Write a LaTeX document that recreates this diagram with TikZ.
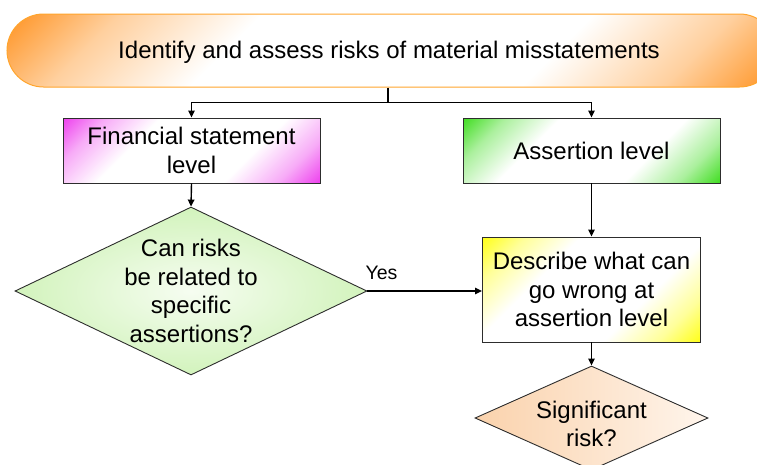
\documentclass[tikz,border=0pt]{standalone}
\usepackage{fontspec}
\setmainfont{Liberation Sans}
\usetikzlibrary{shapes.geometric,arrows.meta}

% colours of the boxes
\definecolor{toporange}{RGB}{255,150,40}
\definecolor{topedge}{RGB}{255,165,45}
\definecolor{finmag}{RGB}{238,70,238}
\definecolor{asrgreen}{RGB}{70,222,40}
\definecolor{descyellow}{RGB}{255,255,30}
\definecolor{qgreen}{RGB}{210,243,188}
\definecolor{qgreenlight}{RGB}{246,253,241}
\definecolor{qpeach}{RGB}{250,210,172}
\definecolor{qpeachlight}{RGB}{255,245,236}
\definecolor{edgegray}{RGB}{45,45,45}

% diagonal fade: coloured top-left and bottom-right corners, white band between
\newcommand\cornerfade[2]{%
  \pgfdeclareverticalshading{#1}{100bp}{color(0bp)=(#2); color(15bp)=(#2);
    color(24bp)=(#2!45!white); color(36bp)=(white); color(64bp)=(white);
    color(76bp)=(#2!45!white); color(85bp)=(#2); color(100bp)=(#2)}}
\cornerfade{fadeorange}{toporange}
\cornerfade{fademagenta}{finmag}
\cornerfade{fadegreen}{asrgreen}
\cornerfade{fadeyellow}{descyellow}

\tikzset{
  lbl/.style={font=\fontsize{24}{28.8}\selectfont, align=center, text=black},
  levelbox/.style={rectangle, draw=edgegray, line width=0.9pt, inner sep=0pt,
    shading angle=45, lbl},
  decision/.style={diamond, draw=edgegray, line width=0.9pt, inner sep=0pt},
  link/.style={draw=black, line width=1.4pt,
    -{Triangle[length=7pt,width=6.5pt]}},
  plain/.style={draw=black, line width=1.4pt},
}

\begin{document}
\begin{tikzpicture}[x=1pt,y=-1pt]
  \useasboundingbox (0,0) rectangle (757,464);
  \begin{scope}
    \clip (0,0) rectangle (757,464);

    % heading bar
    \node[rectangle, rounded corners=36.5pt, draw=topedge, line width=1pt,
          shading=fadeorange, shading angle=45,
          minimum width=769pt, minimum height=73pt, inner sep=0pt]
          (top) at (391.5,50.5) {};
    \node[lbl] (toptext) at (389,52.5) {Identify and assess risks of material misstatements};

    % the two levels
    \node[levelbox, shading=fademagenta, minimum width=257pt, minimum height=65pt]
          (fin) at (191.5,150.5) {Financial statement\\level};
    \node[levelbox, shading=fadegreen, minimum width=257pt, minimum height=65pt]
          (asr) at (591.5,150.5) {Assertion level};

    % first decision
    \node[decision, minimum width=352pt, minimum height=168pt,
          inner color=qgreenlight, outer color=qgreen]
          (q1) at (191,291) {};
    \node[lbl] (q1text) at (191,291) {Can risks\\be related to\\specific\\assertions?};

    % description of what can go wrong
    \node[levelbox, shading=fadeyellow, minimum width=218pt, minimum height=105pt]
          (desc) at (591.5,289.5) {Describe what can\\go wrong at\\assertion level};

    % second decision
    \node[decision, minimum width=233pt, minimum height=104pt,
          left color=qpeach, right color=qpeachlight]
          (q2) at (591.5,418) {};
    \node[lbl] (q2text) at (591.5,424) {Significant\\risk?};

    % connectors
    \coordinate (split) at (388,102.5);
    \draw[plain] (top.south -| split) -- (split);
    \draw[link] (split) -| (fin.north);
    \draw[link] (split) -| (asr.north);
    \draw[link] (fin.south) -- (q1.north);
    \draw[link] (asr.south) -- (desc.north);
    \draw[link] (q1.east) -- (q1.east -| desc.west);
    \draw[link] (desc.south) -- (q2.north);

    \node[font=\fontsize{19.5}{23}\selectfont] (yes) at (381.5,273) {Yes};
  \end{scope}
\end{tikzpicture}
\end{document}
